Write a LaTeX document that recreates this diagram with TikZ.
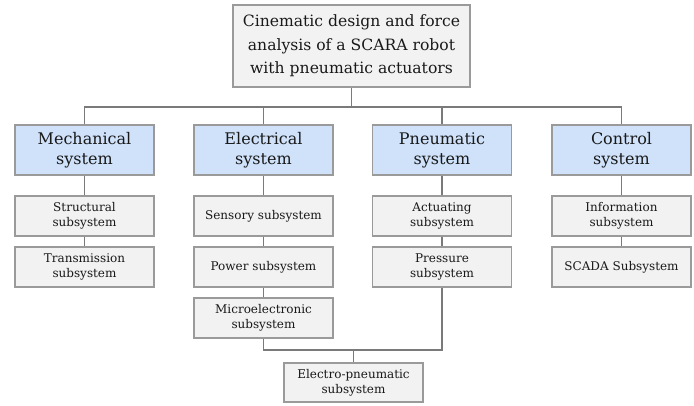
\documentclass[tikz,border=0pt]{standalone}
\usepackage{fontspec}
\setmainfont{DejaVu Serif}
\definecolor{bluefill}{HTML}{CFE2FA}
\definecolor{grayfill}{HTML}{F2F2F3}
\definecolor{boxline}{HTML}{9A9A9A}
\definecolor{conn}{HTML}{7A7A7A}
\tikzset{
  base/.style={draw=boxline, line width=1.2pt, align=center, inner sep=0pt, text=black!90},
  topbox/.style={base, fill=grayfill, minimum width=237pt, minimum height=82pt, font=\fontsize{15.6}{23.5}\selectfont},
  sysbox/.style={base, fill=bluefill, minimum width=139pt, minimum height=50pt, font=\fontsize{16}{20}\selectfont},
  subbox/.style={base, fill=grayfill, minimum width=139pt, minimum height=40pt, font=\fontsize{12}{15}\selectfont},
  link/.style={draw=conn, line width=1.1pt}
}
\begin{document}
\begin{tikzpicture}[x=1pt,y=1pt]
\useasboundingbox (0,0) rectangle (694,-405);
\node[topbox] (top) at (351.5,-46) {Cinematic design and force\\analysis of a SCARA robot\\with pneumatic actuators};
\node[sysbox] (mech) at (84.5,-150) {Mechanical\\system};
\node[sysbox] (elec) at (263.5,-150) {Electrical\\system};
\node[sysbox] (pneu) at (442,-150) {Pneumatic\\system};
\node[sysbox] (ctrl) at (621.5,-150) {Control\\system};
\node[subbox] (struc) at (84.5,-216) {Structural\\subsystem};
\node[subbox] (trans) at (84.5,-267) {Transmission\\subsystem};
\node[subbox] (sens) at (263.5,-216) {Sensory subsystem};
\node[subbox] (power) at (263.5,-267) {Power subsystem};
\node[subbox] (micro) at (263.5,-318) {Microelectronic\\subsystem};
\node[subbox] (act) at (442,-216) {Actuating\\subsystem};
\node[subbox] (press) at (442,-267) {Pressure\\subsystem};
\node[subbox] (info) at (621.5,-216) {Information\\subsystem};
\node[subbox] (scada) at (621.5,-267) {SCADA Subsystem};
\node[subbox, minimum height=39pt] (ep) at (353.5,-382.5) {Electro-pneumatic\\subsystem};
\coordinate (bus) at (0,-107);
\coordinate (join) at (0,-350);
\draw[link] (top.south) -- (top.south |- bus);
\draw[link] (mech.north) |- (ctrl.north |- bus) -- (ctrl.north);
\draw[link] (elec.north) -- (elec.north |- bus);
\draw[link] (pneu.north) -- (pneu.north |- bus);
\draw[link] (mech.south) -- (struc.north);
\draw[link] (struc.south) -- (trans.north);
\draw[link] (elec.south) -- (sens.north);
\draw[link] (sens.south) -- (power.north);
\draw[link] (power.south) -- (micro.north);
\draw[link] (pneu.south) -- (act.north);
\draw[link] (act.south) -- (press.north);
\draw[link] (ctrl.south) -- (info.north);
\draw[link] (info.south) -- (scada.north);
\draw[link] (micro.south) |- (press.south |- join) -- (press.south);
\draw[link] (ep.north |- join) -- (ep.north);
\end{tikzpicture}
\end{document}
